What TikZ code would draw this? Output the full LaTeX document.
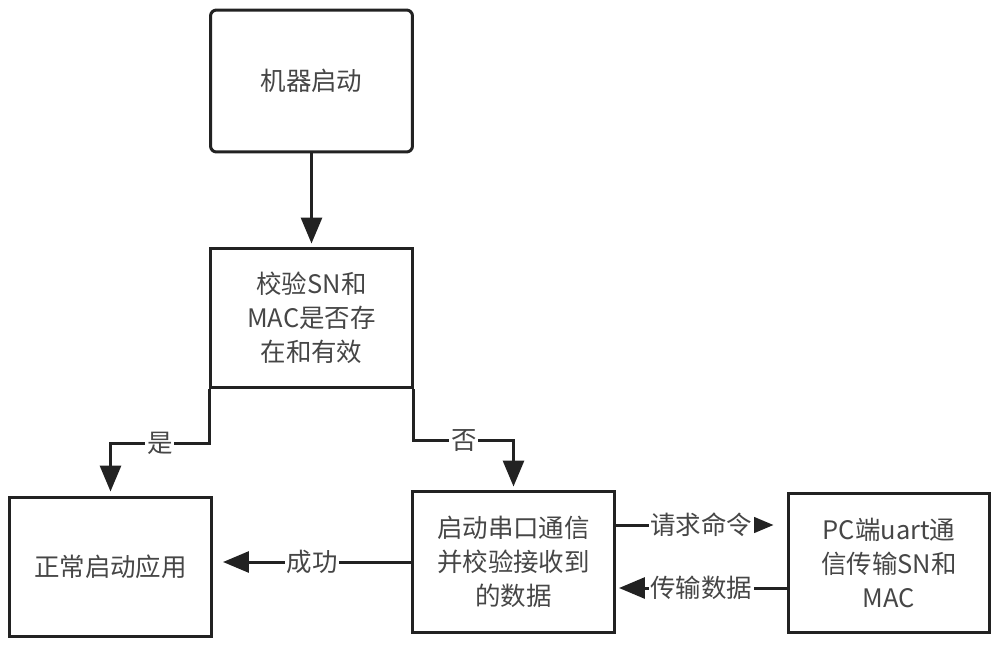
\documentclass[tikz,border=0pt]{standalone}
\usepackage{fontspec}
\setmainfont{Noto Sans CJK SC}
\usepackage{xcolor}
\usepackage{tikz}
\usetikzlibrary{arrows.meta,positioning,calc}
\definecolor{fcLine}{RGB}{ 34, 34, 34}
\definecolor{fcText}{RGB}{ 70, 70, 70}

\begin{document}
\begin{tikzpicture}[
  x=0.02cm,y=-0.02cm,
  every node/.style={font=\fontsize{14.5}{19.5}\selectfont,text=fcText},
  box/.style={draw=fcLine,line width=0.06cm,minimum width=4.04cm,
              minimum height=2.8cm,align=center,inner sep=0pt},
  flow/.style={draw=fcLine,line width=0.06cm,
               -{Triangle[length=0.52cm,width=0.42cm]}},
  lbl/.style={fill=white,inner sep=1pt}
]
\useasboundingbox (0,0) rectangle (1000,649);
% Boxes
\node[box,rounded corners=0.12cm,minimum height=2.84cm] (boot) at (311.5,81) {机器启动};
\node[box] (chk) at (311.5,318) {校验SN和\\MAC是否存\\在和有效};
\node[box] (app) at (110.5,567) {正常启动应用};
\node[box,minimum height=2.84cm] (ser) at (513.5,562) {启动串口通信\\并校验接收到\\的数据};
\node[box] (pc) at (889,563) {PC端uart通\\信传输SN和\\MAC};
% Arrows
\draw[flow,shorten >=0.06cm] (boot) -- (chk);
\draw[flow,shorten >=0.08cm] (chk.south west) -- ++(0,54)
  -| node[lbl,pos=0.25] (yes) {是} (app.north);
\draw[flow,shorten >=0.06cm] (chk.south east) -- ++(0,51)
  -| node[lbl,pos=0.25] (no) {否} (ser.north);
\draw[flow,shorten >=0.2cm] (ser.west) -- node[lbl] (ok) {成功} (ser.west -| app.east);
\draw[flow,shorten >=0.26cm] ([yshift=0.74cm]ser.east)
  -- node[lbl] (req) {请求命令} ([yshift=0.74cm]ser.east -| pc.west);
\draw[flow,shorten >=0.06cm] ([yshift=-0.52cm]ser.east -| pc.west)
  -- node[lbl] (dat) {传输数据} ([yshift=-0.52cm]ser.east);
\end{tikzpicture}
\end{document}
